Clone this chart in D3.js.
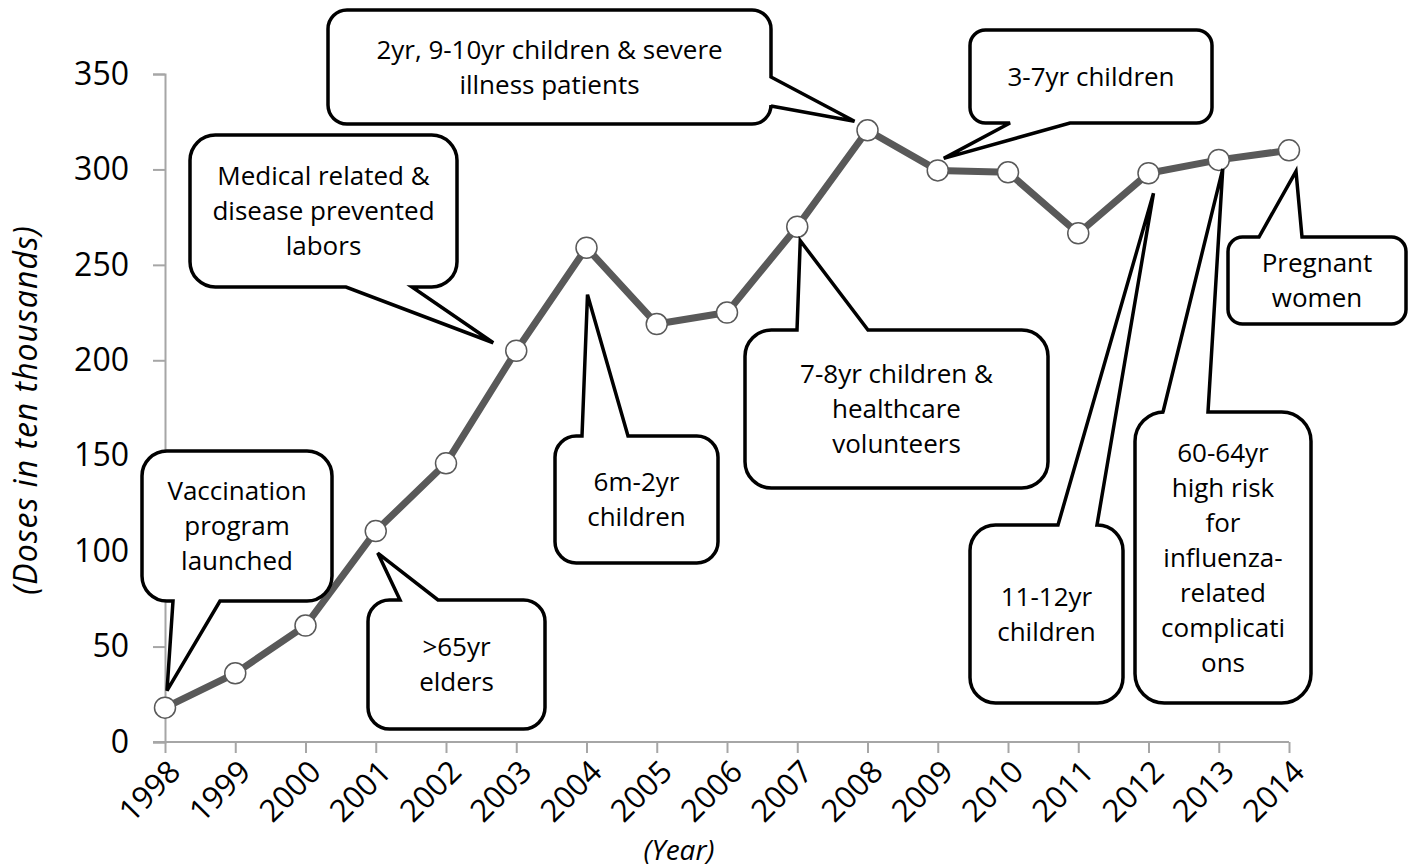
<!DOCTYPE html>
<html>
<head>
<meta charset="utf-8">
<script src="https://cdn.jsdelivr.net/npm/d3@7"></script>
<style>
  html, body { margin: 0; padding: 0; background: #fff; }
  svg { display: block; font-family: "Open Sans", "Noto Sans", sans-serif; }
</style>
</head>
<body>
<svg id="chart" width="1410" height="867"></svg>
<script>
// Influenza vaccine doses distributed per year (in ten thousands)
const years = [1998, 1999, 2000, 2001, 2002, 2003, 2004, 2005, 2006, 2007, 2008, 2009, 2010, 2011, 2012, 2013, 2014];
const doses = [18, 36, 61, 110.5, 146, 205, 259, 219, 225, 270, 320.5, 299.5, 298.5, 266.5, 298, 305, 310];
const yTicks = [0, 50, 100, 150, 200, 250, 300, 350];

// Target groups added to the programme, keyed by year
const noteYears = [1998, 2001, 2003, 2004, 2007, 2008, 2009, 2012, 2013, 2014];
const noteTexts = [
  ["Vaccination", "program", "launched"],
  [">65yr", "elders"],
  ["Medical related &", "disease prevented", "labors"],
  ["6m-2yr", "children"],
  ["7-8yr children &", "healthcare", "volunteers"],
  ["2yr, 9-10yr children & severe", "illness patients"],
  ["3-7yr children"],
  ["11-12yr", "children"],
  ["60-64yr", "high risk", "for", "influenza-", "related", "complicati", "ons"],
  ["Pregnant", "women"]
];

// Callout box geometry: box [x, y, w, h], edge carrying the pointer,
// pointer base along that edge, and pointer tip offset from the data point
const noteLayout = [
  { box: [142, 451, 190, 150], side: "bottom", base: [173, 220], off: [2, -17] },
  { box: [368, 600, 177, 129], side: "top", base: [400, 438], off: [2, 22] },
  { box: [190, 135, 267, 152], side: "bottom", base: [346, 412], off: [-23, -8] },
  { box: [555, 436, 163, 127], side: "top", base: [582, 628], off: [1, 47] },
  { box: [745, 330, 303, 158], side: "top", base: [797, 868], off: [3, 14] },
  { box: [328, 10, 443, 114], side: "right", base: [77, 106], off: [-13, -9] },
  { box: [970, 30, 242, 93], side: "bottom", base: [1010, 1070], off: [6, -12] },
  { box: [970, 525, 153, 178], side: "top", base: [1058, 1097], off: [5, 20] },
  { box: [1135, 412, 176, 291], side: "top", base: [1163, 1208], off: [4, 9] },
  { box: [1228, 237, 178, 87], side: "top", base: [1259, 1302], off: [7, 21] }
];

const svg = d3.select("#chart");
const plot = { left: 165, right: 1289, top: 74, bottom: 742 };
const axisColor = "#a6a6a6";
const lineColor = "#595959";

const x = d3.scalePoint().domain(years).range([plot.left, plot.right]);
const y = d3.scaleLinear().domain([0, 350]).range([plot.bottom, plot.top]);

// Y axis
const yAxis = svg.append("g")
  .attr("transform", `translate(${plot.left},0)`)
  .call(d3.axisLeft(y).tickValues(yTicks).tickSize(12).tickPadding(24));
yAxis.select(".domain").attr("stroke", axisColor).attr("stroke-width", 2);
yAxis.selectAll(".tick line").attr("stroke", axisColor).attr("stroke-width", 2);
yAxis.selectAll(".tick text")
  .attr("fill", "#000").attr("font-size", 32).attr("font-family", "Open Sans");

// X axis
const xAxis = svg.append("g")
  .attr("transform", `translate(0,${plot.bottom})`)
  .call(d3.axisBottom(x).tickSize(11).tickSizeOuter(0));
xAxis.select(".domain").remove();
xAxis.append("line")
  .attr("x1", plot.left - 12).attr("x2", plot.right)
  .attr("stroke", axisColor).attr("stroke-width", 2);
xAxis.selectAll(".tick line").attr("stroke", axisColor).attr("stroke-width", 2);
xAxis.selectAll(".tick text")
  .attr("fill", "#000").attr("font-size", 31).attr("font-family", "Open Sans")
  .attr("text-anchor", "end")
  .attr("y", 0).attr("dy", "0.35em")
  .attr("transform", "translate(9,24) rotate(-45)");

// Axis titles
svg.append("text")
  .attr("transform", `translate(37,${(plot.top + plot.bottom) / 2 + 2}) rotate(-90)`)
  .attr("text-anchor", "middle")
  .attr("font-size", 32).attr("font-style", "italic").attr("fill", "#000")
  .attr("letter-spacing", 1)
  .text("(Doses in ten thousands)");
svg.append("text")
  .attr("x", 679).attr("y", 860)
  .attr("text-anchor", "middle")
  .attr("font-size", 28).attr("font-style", "italic").attr("fill", "#000")
  .text("(Year)");

// Series line and markers
const pts = years.map((yr, i) => ({ yr, v: doses[i] }));
svg.append("path")
  .datum(pts)
  .attr("fill", "none")
  .attr("stroke", lineColor)
  .attr("stroke-width", 7)
  .attr("stroke-linejoin", "round")
  .attr("d", d3.line().x(d => x(d.yr)).y(d => y(d.v)));
svg.append("g").selectAll("circle")
  .data(pts).join("circle")
  .attr("cx", d => x(d.yr)).attr("cy", d => y(d.v))
  .attr("r", 10.5)
  .attr("fill", "#fff").attr("stroke", lineColor).attr("stroke-width", 1.5);

// Rounded-rectangle callout with a wedge pointer on one edge
function calloutPath(b, side, base, tip) {
  const [bx, by, bw, bh] = b;
  const r = Math.min(bw, bh) / 6;
  const x1 = bx + bw, y1 = by + bh;
  const [a0, a1] = base;
  const p = d3.path();
  p.moveTo(bx + r, by);
  if (side === "top") { p.lineTo(a0, by); p.lineTo(tip[0], tip[1]); p.lineTo(a1, by); }
  p.lineTo(x1 - r, by);
  p.arcTo(x1, by, x1, by + r, r);
  if (side === "right") { p.lineTo(x1, a0); p.lineTo(tip[0], tip[1]); p.lineTo(x1, a1); }
  p.lineTo(x1, y1 - r);
  p.arcTo(x1, y1, x1 - r, y1, r);
  if (side === "bottom") { p.lineTo(a1, y1); p.lineTo(tip[0], tip[1]); p.lineTo(a0, y1); }
  p.lineTo(bx + r, y1);
  p.arcTo(bx, y1, bx, y1 - r, r);
  if (side === "left") { p.lineTo(bx, a1); p.lineTo(tip[0], tip[1]); p.lineTo(bx, a0); }
  p.lineTo(bx, by + r);
  p.arcTo(bx, by, bx + r, by, r);
  p.closePath();
  return p.toString();
}

const notes = noteYears.map((yr, i) => {
  const v = doses[years.indexOf(yr)];
  const L = noteLayout[i];
  return {
    lines: noteTexts[i],
    box: L.box, side: L.side, base: L.base,
    tip: [x(yr) + L.off[0], y(v) + L.off[1]]
  };
});

const lineH = 35;
const ng = svg.append("g").selectAll("g").data(notes).join("g");
ng.append("path")
  .attr("d", d => calloutPath(d.box, d.side, d.base, d.tip))
  .attr("fill", "#fff").attr("stroke", "#000")
  .attr("stroke-width", 3.5).attr("stroke-linejoin", "miter");
ng.each(function (d) {
  const cx = d.box[0] + d.box[2] / 2;
  const cy = d.box[1] + d.box[3] / 2;
  const n = d.lines.length;
  d3.select(this).selectAll("text")
    .data(d.lines).join("text")
    .attr("x", cx)
    .attr("y", (t, i) => cy + (i - (n - 1) / 2) * lineH)
    .attr("dy", "0.36em")
    .attr("text-anchor", "middle")
    .attr("font-size", 26).attr("fill", "#000")
    .text(t => t);
});
</script>
</body>
</html>
